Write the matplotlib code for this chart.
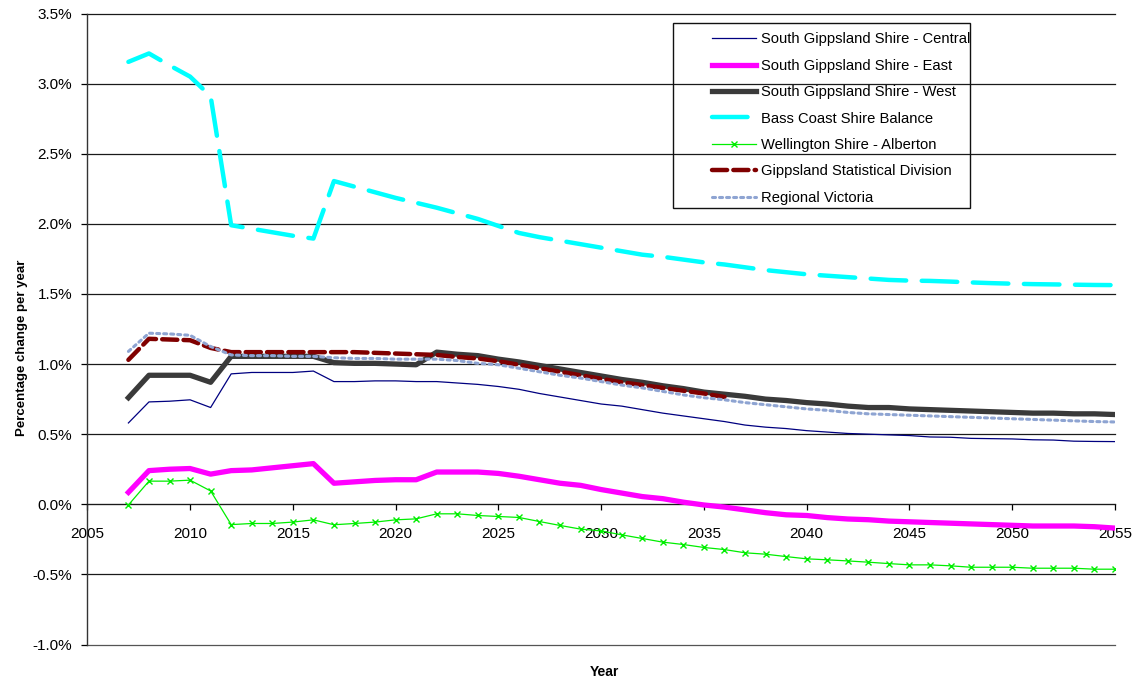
import numpy as np
import matplotlib
matplotlib.use("Agg")
import matplotlib.pyplot as plt
from matplotlib.patches import Rectangle
from matplotlib.ticker import MultipleLocator, FuncFormatter

plt.rcParams["font.family"] = ["Liberation Sans", "DejaVu Sans"]

years = list(range(2007, 2056))
years_gsd = list(range(2007, 2037))

central = [0.58, 0.73, 0.735, 0.745, 0.69, 0.93, 0.94, 0.94, 0.94, 0.95,
           0.875, 0.875, 0.88, 0.88, 0.875, 0.875, 0.865, 0.855, 0.84, 0.82,
           0.79, 0.765, 0.74, 0.715, 0.70, 0.675, 0.65, 0.63, 0.61, 0.59,
           0.565, 0.55, 0.54, 0.525, 0.515, 0.505, 0.50, 0.495, 0.49, 0.48,
           0.478, 0.47, 0.468, 0.466, 0.46, 0.458, 0.45, 0.448, 0.447]

east = [0.085, 0.24, 0.25, 0.255, 0.215, 0.24, 0.245, 0.26, 0.275, 0.29,
        0.15, 0.16, 0.17, 0.175, 0.175, 0.23, 0.23, 0.23, 0.22, 0.20,
        0.175, 0.15, 0.135, 0.105, 0.08, 0.055, 0.04, 0.015, -0.005, -0.02,
        -0.04, -0.06, -0.075, -0.08, -0.095, -0.105, -0.11, -0.12, -0.125, -0.13,
        -0.135, -0.14, -0.145, -0.15, -0.155, -0.155, -0.155, -0.16, -0.17]

west = [0.76, 0.92, 0.92, 0.92, 0.87, 1.055, 1.055, 1.055, 1.055, 1.055,
        1.01, 1.005, 1.005, 1.0, 0.995, 1.085, 1.07, 1.06, 1.035, 1.015,
        0.99, 0.965, 0.94, 0.915, 0.89, 0.87, 0.845, 0.825, 0.80, 0.785,
        0.77, 0.75, 0.74, 0.725, 0.715, 0.70, 0.69, 0.69, 0.68, 0.675,
        0.67, 0.665, 0.66, 0.655, 0.65, 0.65, 0.645, 0.645, 0.64]

bass_coast = [3.155, 3.215, 3.13, 3.05, 2.91, 1.99, 1.965, 1.94, 1.915, 1.895,
              2.305, 2.265, 2.225, 2.185, 2.15, 2.115, 2.075, 2.035, 1.985, 1.935,
              1.905, 1.88, 1.855, 1.83, 1.805, 1.78, 1.765, 1.745, 1.725, 1.71,
              1.69, 1.67, 1.655, 1.64, 1.63, 1.62, 1.61, 1.60, 1.595, 1.593,
              1.588, 1.582, 1.577, 1.573, 1.57, 1.568, 1.566, 1.564, 1.563]

alberton = [-0.005, 0.165, 0.165, 0.172, 0.095, -0.145, -0.137, -0.137, -0.127, -0.111,
            -0.146, -0.137, -0.127, -0.111, -0.104, -0.068, -0.068, -0.08, -0.087, -0.094,
            -0.123, -0.151, -0.177, -0.19, -0.218, -0.244, -0.27, -0.287, -0.308, -0.323,
            -0.346, -0.356, -0.373, -0.389, -0.396, -0.404, -0.413, -0.423, -0.432, -0.432,
            -0.439, -0.449, -0.449, -0.449, -0.456, -0.456, -0.456, -0.463, -0.463]

gippsland_sd = [1.03, 1.18, 1.175, 1.17, 1.115, 1.085, 1.085, 1.085, 1.085, 1.085,
                1.085, 1.085, 1.08, 1.075, 1.07, 1.065, 1.05, 1.04, 1.02, 0.995,
                0.97, 0.945, 0.92, 0.895, 0.87, 0.85, 0.83, 0.81, 0.79, 0.765]

regional_vic = [1.09, 1.22, 1.215, 1.205, 1.125, 1.065, 1.06, 1.06, 1.055, 1.055,
                1.045, 1.04, 1.04, 1.035, 1.035, 1.035, 1.025, 1.005, 0.995, 0.97,
                0.945, 0.92, 0.90, 0.875, 0.85, 0.83, 0.805, 0.78, 0.76, 0.745,
                0.725, 0.71, 0.695, 0.68, 0.67, 0.655, 0.645, 0.64, 0.635, 0.63,
                0.625, 0.62, 0.615, 0.61, 0.605, 0.60, 0.595, 0.59, 0.587]

W, H = 1145, 681
fig = plt.figure(figsize=(W / 100, H / 100), dpi=100)
ax = fig.add_axes([87.3 / W, 1 - 644.5 / H, (1115 - 87.3) / W, (644.5 - 13.5) / H])

# gridlines, incl. the ones on the plot edges
for v in np.arange(-1.0, 3.51, 0.5):
    col = "#555555" if v < -0.9 else "#1a1a1a"
    ax.axhline(v, color=col, lw=0.9, zorder=1, clip_on=False)

ax.plot(years, central, color="#000080", lw=0.9, label="South Gippsland Shire - Central", zorder=3)
ax.plot(years, east, color="#FF00FF", lw=3.8, label="South Gippsland Shire - East", zorder=3)
ax.plot(years, west, color="#3a3a3a", lw=3.8, label="South Gippsland Shire - West", zorder=3)
ax.plot(years, bass_coast, color="#00FFFF", lw=3.2, dashes=(8, 3.5), dash_capstyle="round",
        label="Bass Coast Shire Balance", zorder=3)
ax.plot(years, alberton, color="#00EE00", lw=0.9, marker="x", ms=4, mew=1,
        label="Wellington Shire - Alberton", zorder=3)
ax.plot(years_gsd, gippsland_sd, color="#800000", lw=3.2, dashes=(3.4, 1.4), dash_capstyle="round",
        label="Gippsland Statistical Division", zorder=4)
ax.plot(years, regional_vic, color="#8EA4D2", lw=2.2, dashes=(1, 1.3), dash_capstyle="round",
        label="Regional Victoria", zorder=5)

ax.set_xlim(2005, 2055)
ax.set_ylim(-1.0, 3.5)
ax.xaxis.set_major_locator(MultipleLocator(5))
ax.yaxis.set_major_locator(MultipleLocator(0.5))
ax.yaxis.set_major_formatter(FuncFormatter(lambda v, p: f"{v:.1f}%"))

for s in ["top", "right"]:
    ax.spines[s].set_visible(False)
ax.spines["bottom"].set_position(("data", 0))
ax.spines["bottom"].set_color("#1a1a1a")
ax.spines["left"].set_color("#333333")
ax.spines["left"].set_linewidth(1.0)
ax.tick_params(axis="x", direction="out", length=4, width=0.9, pad=12, labelsize=11)
ax.tick_params(axis="y", direction="out", length=4, width=0.9, pad=7, labelsize=11)

ax.set_ylabel("Percentage change per year", fontsize=9.5, fontweight="bold")
ax.yaxis.set_label_coords(-0.058, 0.4707)
ax.set_xlabel("Year", fontsize=10, fontweight="bold")
ax.xaxis.set_label_coords(0.5036, -0.033)

leg = ax.legend(loc="upper left", bbox_to_anchor=(712 / W, 1 - 32.5 / H),
                bbox_transform=fig.transFigure, frameon=False, borderpad=0,
                borderaxespad=0, fontsize=10.6, handlelength=3.0, handletextpad=0.33,
                labelspacing=0.84)
fig.patches.append(Rectangle((673 / W, 1 - 208 / H), 297 / W, 185 / H,
                             transform=fig.transFigure, fill=False,
                             ec="#111111", lw=1.0, zorder=10))

fig.savefig("out.png", dpi=100)
